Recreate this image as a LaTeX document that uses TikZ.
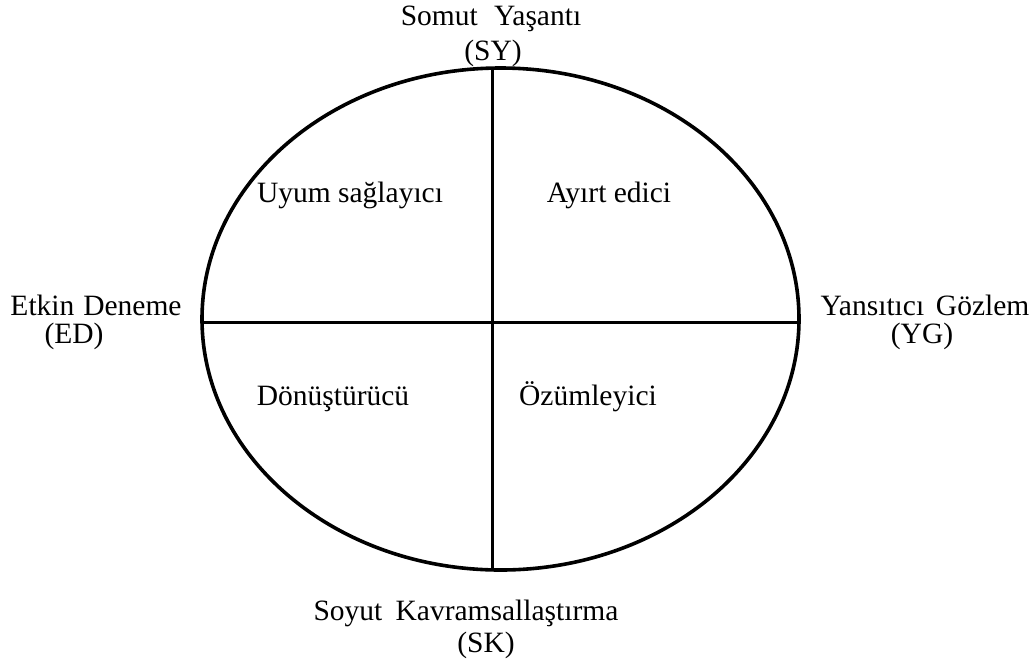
\documentclass[tikz,border=0pt]{standalone}
\usepackage{fontspec}
\setmainfont{Liberation Serif}
\usetikzlibrary{shapes.geometric}
\begin{document}
\begin{tikzpicture}[x=1pt,y=-1pt,
  lbl/.style={anchor=base,inner sep=0pt,font=\fontsize{29.5}{35}\selectfont},
  ring/.style={draw=black,line width=3.6pt,ellipse,inner sep=0pt,minimum width=597pt,minimum height=502pt},
  divider/.style={draw=black,line width=3pt}]
\useasboundingbox (0,0) rectangle (1035,665);
\node[ring] (E) at (500.5,319) {};
\coordinate (T) at (492,68.1);
\coordinate (B) at (492,569.9);
\coordinate (L) at (202,322);
\coordinate (R) at (799,322);
\draw[divider] (T) -- (B);
\draw[divider] (L) -- (R);
\node[lbl] (sy) at (491,25) {Somut\hspace{0.55em}Yaşantı};
\node[lbl] (sya) at (493,60) {(SY)};
\node[lbl] (ed) at (96,315) {Etkin\hspace{0.3em}Deneme};
\node[lbl] (eda) at (74,343) {(ED)};
\node[lbl] (yg) at (925,315) {Yansıtıcı\hspace{0.4em}Gözlem};
\node[lbl] (yga) at (922,343) {(YG)};
\node[lbl] (sk) at (466,620) {Soyut\hspace{0.45em}Kavramsallaştırma};
\node[lbl] (ska) at (486,652) {(SK)};
\node[lbl] (q1) at (350,202) {Uyum sağlayıcı};
\node[lbl] (q2) at (609,202) {Ayırt edici};
\node[lbl] (q3) at (333,405) {Dönüştürücü};
\node[lbl] (q4) at (588,405) {Özümleyici};
\end{tikzpicture}
\end{document}
